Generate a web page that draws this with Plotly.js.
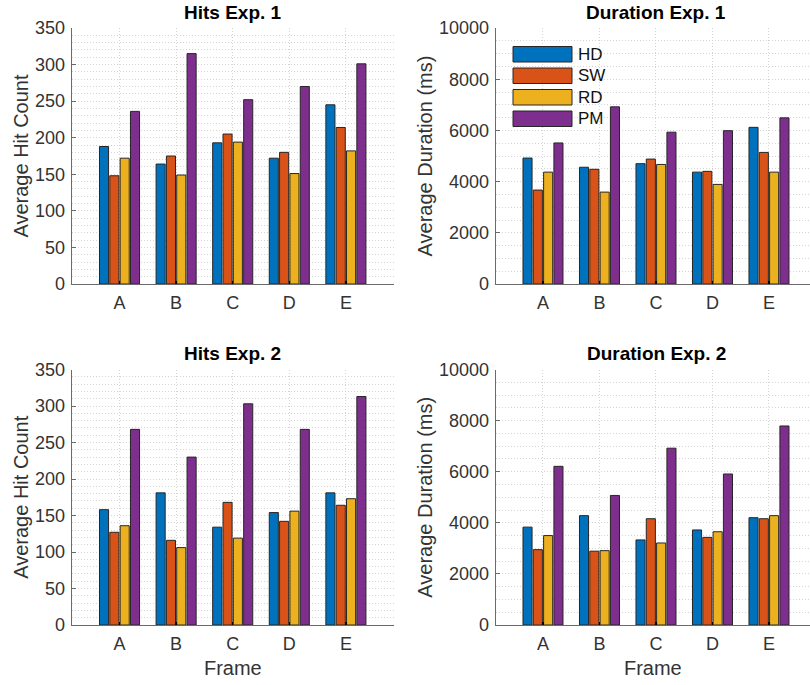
<!DOCTYPE html>
<html>
<head>
<meta charset="utf-8">
<script src="https://cdn.plot.ly/plotly-3.0.1.min.js"></script>
<style>html,body{margin:0;padding:0;background:#fff;overflow:hidden}#chart{width:810px;height:685px}</style>
</head>
<body>
<div id="chart"></div>
<script>
// ---- data ----
const categories = ['A', 'B', 'C', 'D', 'E'];
const seriesNames = ['HD', 'SW', 'RD', 'PM'];
const panelTitles = ['Hits Exp. 1', 'Duration Exp. 1', 'Hits Exp. 2', 'Duration Exp. 2'];

const hitsExp1_HD = [188, 164, 193, 172, 245];
const hitsExp1_SW = [148, 175, 205, 180, 214];
const hitsExp1_RD = [172, 149, 194, 151, 182];
const hitsExp1_PM = [236, 315, 252, 270, 301];

const durExp1_HD = [4920, 4560, 4700, 4370, 6120];
const durExp1_SW = [3670, 4480, 4880, 4400, 5140];
const durExp1_RD = [4370, 3590, 4670, 3890, 4370];
const durExp1_PM = [5510, 6920, 5930, 5990, 6490];

const hitsExp2_HD = [158, 181, 134, 154, 181];
const hitsExp2_SW = [127, 116, 168, 142, 164];
const hitsExp2_RD = [136, 106, 119, 156, 173];
const hitsExp2_PM = [268, 230, 303, 268, 313];

const durExp2_HD = [3830, 4280, 3330, 3720, 4200];
const durExp2_SW = [2950, 2890, 4160, 3430, 4160];
const durExp2_RD = [3500, 2910, 3210, 3650, 4280];
const durExp2_PM = [6210, 5070, 6920, 5910, 7790];

// ---- build ----
const colors = ['#0072BD', '#D95319', '#EDB120', '#7E2F8E'];
const panels = [
  [hitsExp1_HD, hitsExp1_SW, hitsExp1_RD, hitsExp1_PM],
  [durExp1_HD, durExp1_SW, durExp1_RD, durExp1_PM],
  [hitsExp2_HD, hitsExp2_SW, hitsExp2_RD, hitsExp2_PM],
  [durExp2_HD, durExp2_SW, durExp2_RD, durExp2_PM]
];

const W = 810, H = 685;
const px = x => x / W;
const py = y => 1 - y / H;
const FONT = 'Liberation Sans, Arial, Helvetica, sans-serif';

const traces = [];
panels.forEach((series, p) => {
  const suf = p === 0 ? '' : String(p + 1);
  series.forEach((vals, s) => {
    traces.push({
      type: 'bar', x: categories, y: vals, name: seriesNames[s],
      xaxis: 'x' + suf, yaxis: 'y' + suf,
      marker: {color: colors[s], line: {color: '#262626', width: 1}},
      showlegend: false, hoverinfo: 'x+y+name'
    });
  });
});

const gridCol = '#d4d4d4';
const gridDash = '1px,2px';
function xAxis(dom, rng, anchor, withTitle) {
  const a = {
    domain: dom, range: rng, anchor: anchor, type: 'category',
    showline: true, linecolor: '#6a6a6a', linewidth: 1,
    showgrid: true, gridcolor: gridCol, griddash: gridDash, gridwidth: 1,
    ticks: 'inside', ticklen: 3, tickcolor: '#000', tickwidth: 1.5,
    tickfont: {family: FONT, size: 18, color: '#333'},
    zeroline: false, fixedrange: true, ticklabelstandoff: 2
  };
  if (withTitle) a.title = {text: 'Frame', font: {family: FONT, size: 20, color: '#333'}, standoff: 8};
  return a;
}
function yAxis(dom, rng, dtick, mdtick, anchor, title) {
  return {
    domain: dom, range: rng, anchor: anchor, dtick: dtick, tickformat: 'd',
    showline: true, linecolor: '#6a6a6a', linewidth: 1,
    showgrid: true, gridcolor: gridCol, griddash: gridDash, gridwidth: 1,
    minor: {dtick: mdtick, showgrid: true, gridcolor: gridCol, griddash: gridDash, gridwidth: 1, ticks: ''},
    ticks: 'inside', ticklen: 4, tickcolor: '#6a6a6a',
    tickfont: {family: FONT, size: 18, color: '#333'},
    zeroline: false, fixedrange: true, ticklabelstandoff: 2,
    title: {text: title, font: {family: FONT, size: 20, color: '#333'}, standoff: 1}
  };
}

const xL = [px(71.7), px(394)], xR = [px(495.7), 1];
const yT = [py(284), py(28)], yB = [py(625), py(369.5)];
const rL = [-0.845, 4.85], rR = [-0.837, 4.726];

const titleFont = {family: FONT, size: 19, color: '#000'};
const annotations = [
  {text: '<b>' + panelTitles[0] + '</b>', x: px(232.5), y: py(12.5), xref: 'paper', yref: 'paper', showarrow: false, xanchor: 'center', yanchor: 'middle', font: titleFont},
  {text: '<b>' + panelTitles[1] + '</b>', x: px(656), y: py(12.5), xref: 'paper', yref: 'paper', showarrow: false, xanchor: 'center', yanchor: 'middle', font: titleFont},
  {text: '<b>' + panelTitles[2] + '</b>', x: px(232.5), y: py(353.5), xref: 'paper', yref: 'paper', showarrow: false, xanchor: 'center', yanchor: 'middle', font: titleFont},
  {text: '<b>' + panelTitles[3] + '</b>', x: px(656), y: py(353.5), xref: 'paper', yref: 'paper', showarrow: false, xanchor: 'center', yanchor: 'middle', font: titleFont}
];

// legend (drawn with shapes + text so the patches can be wide like the original)
const shapes = [];
const legX0 = 513, legX1 = 572, legTop = 46.5, legH = 15.5, legPitch = 21.5;
seriesNames.forEach((n, i) => {
  const y0 = legTop + i * legPitch;
  shapes.push({type: 'rect', xref: 'paper', yref: 'paper', x0: px(legX0), x1: px(legX1), y0: py(y0), y1: py(y0 + legH),
    fillcolor: colors[i], line: {color: '#262626', width: 1}});
  annotations.push({text: n, x: px(legX1 + 4), y: py(y0 + legH / 2), xref: 'paper', yref: 'paper', showarrow: false,
    xanchor: 'left', yanchor: 'middle', font: {family: FONT, size: 17, color: '#111'}});
});

const layout = {
  width: W, height: H,
  margin: {l: 0, r: 0, t: 0, b: 0},
  paper_bgcolor: '#fff', plot_bgcolor: '#fff',
  barmode: 'group', bargap: 0.27, bargroupgap: 0.12,
  showlegend: false,
  font: {family: FONT, color: '#333'},
  xaxis: xAxis(xL, rL, 'y', false),
  yaxis: yAxis(yT, [0, 350], 50, 10, 'x', 'Average Hit Count'),
  xaxis2: xAxis(xR, rR, 'y2', false),
  yaxis2: yAxis(yT, [0, 10000], 2000, 500, 'x2', 'Average Duration (ms)'),
  xaxis3: xAxis(xL, rL, 'y3', true),
  yaxis3: yAxis(yB, [0, 350], 50, 10, 'x3', 'Average Hit Count'),
  xaxis4: xAxis(xR, rR, 'y4', true),
  yaxis4: yAxis(yB, [0, 10000], 2000, 500, 'x4', 'Average Duration (ms)'),
  annotations: annotations,
  shapes: shapes
};

Plotly.newPlot('chart', traces, layout, {displayModeBar: false, staticPlot: true});
</script>
</body>
</html>
